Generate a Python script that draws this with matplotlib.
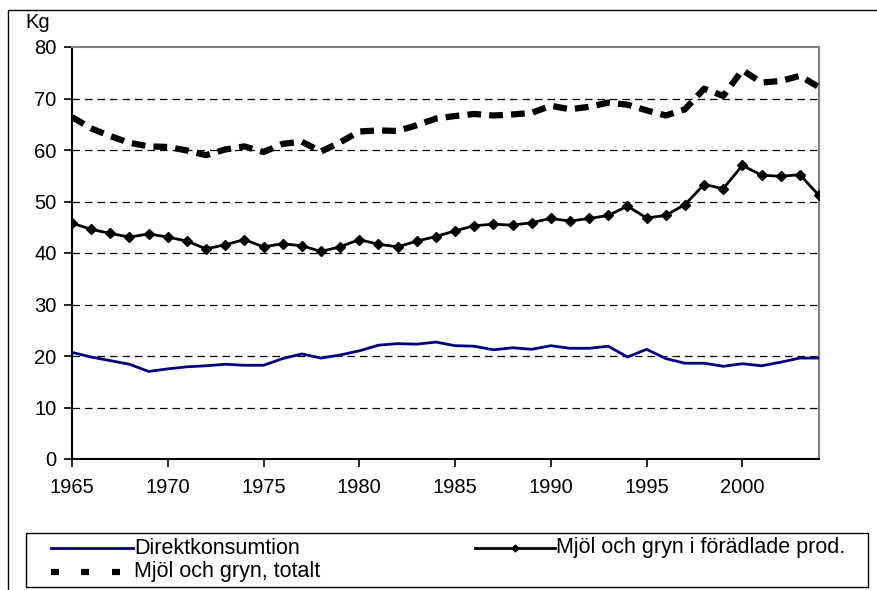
import matplotlib.pyplot as plt
from matplotlib.lines import Line2D
from matplotlib.patches import Rectangle

plt.rcParams['font.family'] = ['Liberation Sans', 'DejaVu Sans']

years = list(range(1965, 2005))

direkt = [20.7, 19.8, 19.1, 18.4, 17.0, 17.5, 17.9, 18.1, 18.4, 18.2,
          18.2, 19.5, 20.4, 19.6, 20.2, 21.0, 22.1, 22.4, 22.3, 22.7,
          22.0, 21.9, 21.2, 21.6, 21.3, 22.0, 21.5, 21.5, 21.9, 19.8,
          21.3, 19.5, 18.6, 18.6, 18.0, 18.5, 18.1, 18.8, 19.6, 19.6]

foradlade = [45.8, 44.6, 43.8, 43.1, 43.7, 43.1, 42.3, 40.8, 41.6, 42.6,
             41.2, 41.8, 41.4, 40.3, 41.2, 42.6, 41.7, 41.2, 42.3, 43.2,
             44.3, 45.3, 45.6, 45.4, 45.9, 46.7, 46.2, 46.7, 47.3, 49.1,
             46.8, 47.3, 49.4, 53.3, 52.5, 57.0, 55.1, 54.9, 55.2, 51.2]

totalt = [66.4, 64.2, 62.7, 61.4, 60.7, 60.6, 59.9, 59.0, 60.1, 60.7,
          59.6, 61.2, 61.6, 59.7, 61.5, 63.6, 63.8, 63.7, 64.8, 66.1,
          66.6, 67.0, 66.7, 66.9, 67.2, 68.6, 67.9, 68.4, 69.2, 68.8,
          67.7, 66.7, 67.9, 71.9, 70.5, 75.5, 73.1, 73.4, 74.4, 72.2]

labels = ["Direktkonsumtion", "Mjöl och gryn i förädlade prod.", "Mjöl och gryn, totalt"]

W, H = 877, 590
fig = plt.figure(figsize=(W / 100, H / 100), dpi=100)
ax = fig.add_axes([72 / W, 1 - 459 / H, (819 - 72) / W, (459 - 47) / H])

def fx(px):
    return px / W

def fy(py):
    return 1 - py / H

# outer frame (cut off on right and bottom like the original)
fig.patches.append(Rectangle((fx(8), -0.1), 1.0, fy(10) + 0.1, transform=fig.transFigure,
                             fill=False, edgecolor='black', linewidth=1.0))

dash = (0, (2.2, 1.3))
ax.plot(years, direkt, color='#000080', lw=2.0, zorder=3)
ax.plot(years, foradlade, color='black', lw=2.0, marker='D', markersize=5, zorder=3)
ax.plot(years, totalt, color='black', lw=4.5, linestyle=dash, zorder=3)

ax.set_xlim(1965, 2004)
ax.set_ylim(0, 80)
ax.set_xticks(range(1965, 2005, 5))
ax.set_yticks(range(0, 81, 10))
for y in range(10, 80, 10):
    ax.axhline(y, color='black', lw=0.9, dashes=(6, 4), zorder=1)

ax.tick_params(axis='both', labelsize=14.5, length=6, width=1.2, direction='out', color='black')
ax.tick_params(axis='x', pad=8)
ax.tick_params(axis='y', pad=5)
for s in ['left', 'bottom']:
    ax.spines[s].set_color('black')
    ax.spines[s].set_linewidth(1.5)
for s in ['top', 'right']:
    ax.spines[s].set_color('#808080')
    ax.spines[s].set_linewidth(1.5)

fig.text(fx(38), fy(22), "Kg", fontsize=14.5, ha='center', va='center')

# legend drawn by hand to match the original layout
fig.patches.append(Rectangle((fx(26), fy(587)), fx(868) - fx(26), fy(533) - fy(587),
                             transform=fig.transFigure, fill=False,
                             edgecolor='black', linewidth=1.0))
row1, row2 = fy(548), fy(572)
fig.add_artist(Line2D([fx(51), fx(133)], [row1, row1], color='#000080', lw=2.0,
                      transform=fig.transFigure))
fig.text(fx(134), row1, labels[0], fontsize=15.5, ha='left', va='center')
fig.add_artist(Line2D([fx(475), fx(555)], [row1, row1], color='black', lw=2.0,
                      transform=fig.transFigure))
fig.add_artist(Line2D([fx(515)], [row1], color='black', marker='D', markersize=3.5,
                      transform=fig.transFigure))
fig.text(fx(556), row1, labels[1], fontsize=15.5, ha='left', va='center')
for x0 in [51, 81, 112]:
    fig.add_artist(Line2D([fx(x0), fx(x0 + 8)], [row2, row2], color='black', lw=4.5,
                          solid_capstyle='butt', transform=fig.transFigure))
fig.text(fx(134), row2, labels[2], fontsize=15.5, ha='left', va='center')

fig.savefig("out.png", dpi=100)
